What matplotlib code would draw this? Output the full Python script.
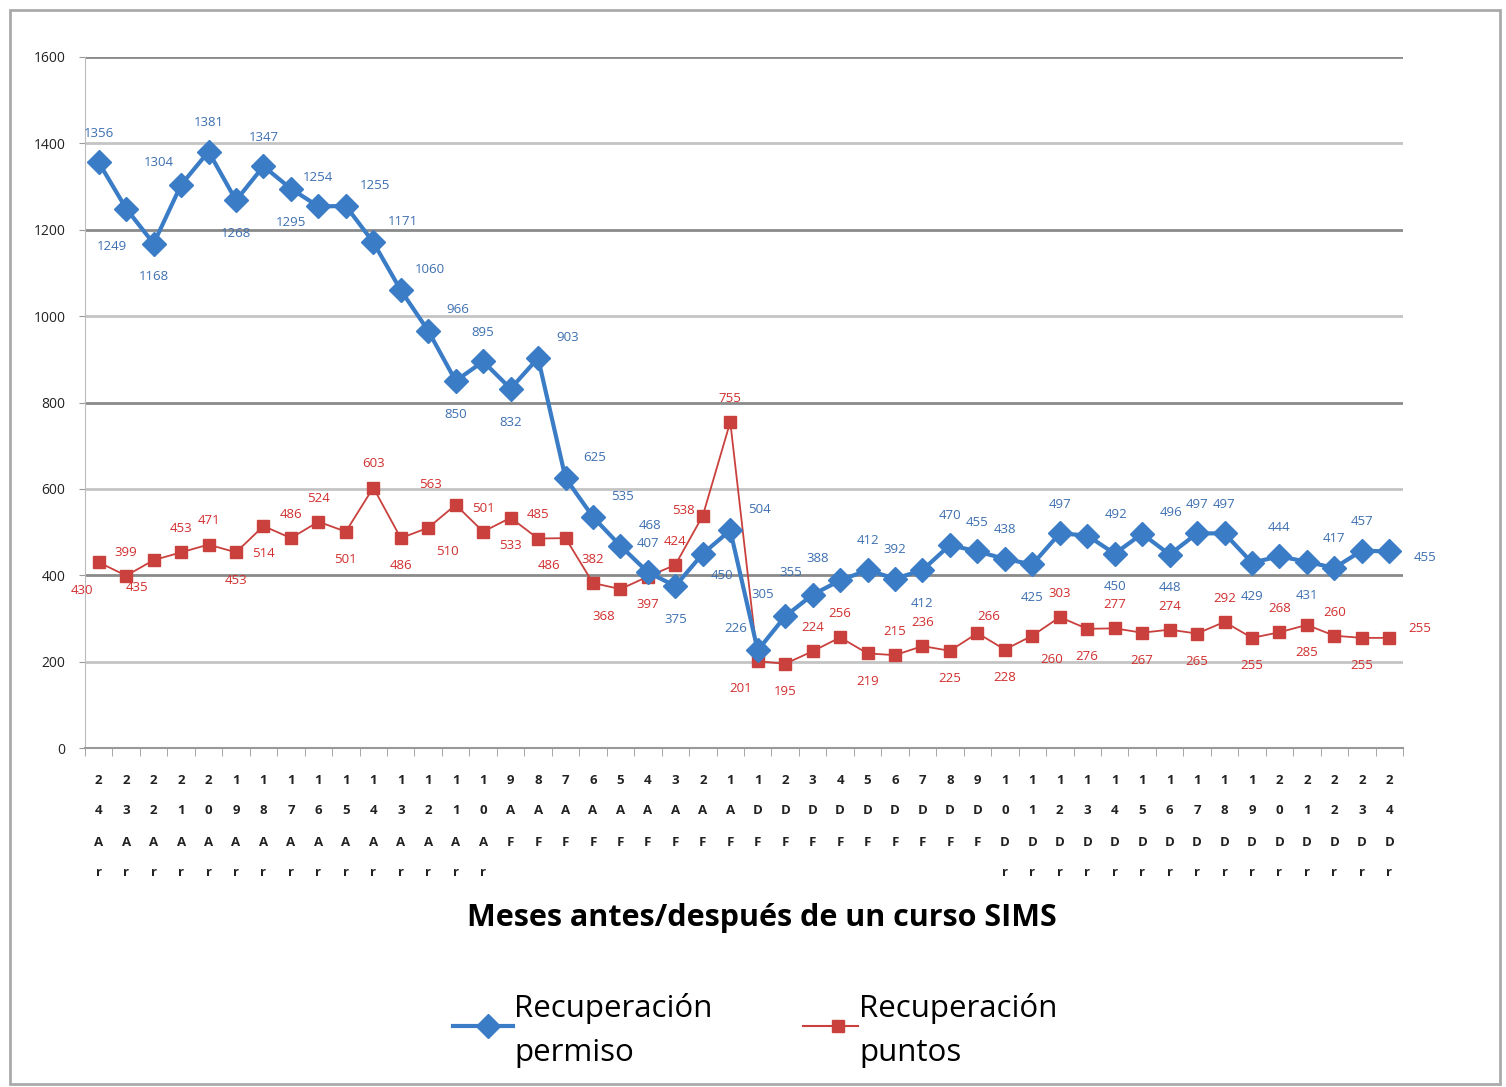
import matplotlib.pyplot as plt
import numpy as np
from matplotlib.lines import Line2D
from matplotlib.patches import Rectangle

plt.rcParams['font.family'] = ['Open Sans', 'DejaVu Sans']

months = [f'{n}Ar' for n in range(24, 9, -1)] + [f'{n}AF' for n in range(9, 0, -1)] \
    + [f'{n}DF' for n in range(1, 10)] + [f'{n}Dr' for n in range(10, 25)]

permiso = [1356, 1249, 1168, 1304, 1381, 1268, 1347, 1295, 1254, 1255, 1171, 1060,
           966, 850, 895, 832, 903, 625, 535, 468, 407, 375, 450, 504,
           226, 305, 355, 388, 412, 392, 412, 470, 455, 438, 425, 497,
           492, 450, 496, 448, 497, 497, 429, 444, 431, 417, 457, 455]
puntos = [430, 399, 435, 453, 471, 453, 514, 486, 524, 501, 603, 486,
          510, 563, 501, 533, 485, 486, 382, 368, 397, 424, 538, 755,
          201, 195, 224, 256, 219, 215, 236, 225, 266, 228, 260, 303,
          276, 277, 267, 274, 265, 292, 255, 268, 285, 260, 255, 255]

# label placement codes for the data labels
permiso_pos = ['a', 'bl', 'b', 'al', 'a', 'b', 'a', 'b', 'a', 'ar', 'ar', 'ar',
               'ar', 'b', 'a', 'b', 'ar', 'ar', 'ar', 'ar', 'a', 'b', 'rb', 'ar',
               'al', 'al', 'al', 'al', 'a', 'a', 'b', 'a', 'a', 'a', 'b', 'a',
               'ar', 'b', 'ar', 'b', 'a', 'a', 'b', 'a', 'b', 'a', 'a', 'r']
puntos_pos = ['bl', 'a', 'bl', 'a', 'a', 'b', 'b', 'a', 'a', 'b', 'a', 'b',
              'br', 'al', 'a', 'b', 'a', 'bl', 'a', 'bl', 'b', 'a', 'l', 'a',
              'bl', 'b', 'a', 'a', 'b', 'a', 'a', 'b', 'ar', 'b', 'br', 'a',
              'b', 'a', 'b', 'a', 'b', 'a', 'b', 'a', 'b', 'a', 'b', 'r']

blue_off = {'a': (0, 21), 'b': (0, -24), 'al': (-16, 16), 'ar': (21, 15),
            'bl': (-10, -27), 'r': (26, -4), 'rb': (14, -16)}
red_off = {'a': (0, 17), 'b': (0, -20), 'al': (-18, 15), 'ar': (8, 12),
           'bl': (-12, -20), 'br': (14, -17), 'r': (22, 7), 'l': (-14, 4)}

blue = '#3a7cc6'
red = '#c9403d'

W, H = 1506, 1087
fig = plt.figure(figsize=(W / 100, H / 100), dpi=100)
L, R, T, B = 85, 1403, 57, 748
ax = fig.add_axes([L / W, 1 - B / H, (R - L) / W, (B - T) / H])

x = np.arange(1, len(months) + 1)

for v in range(200, 1601, 200):
    c = '#8a8a8a' if v % 400 == 0 else '#c4c4c4'
    ax.axhline(v, color=c, lw=2, zorder=0)

ax.plot(x, puntos, color=red, lw=1.3, marker='s', ms=9, mec=red, zorder=3)
ax.plot(x, permiso, color=blue, lw=3, marker='D', ms=12, mec=blue, zorder=4)

for xi, v, p in zip(x, permiso, permiso_pos):
    ax.annotate(str(v), (xi, v), xytext=blue_off[p], textcoords='offset points',
                ha='center', va='center', fontsize=9.5, color='#3d6fb0', zorder=5)
for xi, v, p in zip(x, puntos, puntos_pos):
    ax.annotate(str(v), (xi, v), xytext=red_off[p], textcoords='offset points',
                ha='center', va='center', fontsize=9.5, color='#d22e2e', zorder=5)

ax.set_xlim(0.5, len(months) + 0.5)
ax.set_ylim(0, 1600)
ax.set_yticks(range(0, 1601, 200))
ax.tick_params(axis='y', labelsize=10, length=4, color='#999999', pad=10,
               labelcolor='#222222')
ax.set_xticks(x)
ax.set_xticklabels([])
ax.set_xticks(np.arange(0.5, len(months) + 1, 1), minor=True)
ax.tick_params(axis='x', which='major', length=0)
ax.tick_params(axis='x', which='minor', length=6, color='#999999')
for s in ['top', 'right']:
    ax.spines[s].set_visible(False)
ax.spines['left'].set_color('#bbbbbb')
ax.spines['bottom'].set_color('#999999')
ax.spines['bottom'].set_linewidth(1.5)

# stacked category labels
rows = [780, 811, 842, 873]
for xi, m in zip(x, months):
    for k, ch in enumerate(m):
        ax.text(xi, (B - rows[k]) / (B - T), ch, transform=ax.get_xaxis_transform(),
                ha='center', va='center', fontsize=9.5, fontweight='bold', color='#222222')

fig.text(762 / W, 1 - 918 / H, 'Meses antes/después de un curso SIMS',
         ha='center', va='center', fontsize=22, fontweight='bold')

# legend
ly = 1 - 1026 / H
fig.add_artist(Line2D([453 / W, 513 / W], [ly, ly], color=blue, lw=3))
fig.add_artist(Line2D([488 / W], [ly], color=blue, marker='D', ms=12, lw=0))
fig.text(514 / W, 1 - 1008 / H, 'Recuperación', fontsize=22.5, va='center')
fig.text(514 / W, 1 - 1053 / H, 'permiso', fontsize=22.5, va='center')
fig.add_artist(Line2D([803 / W, 858 / W], [ly, ly], color=red, lw=1.5))
fig.add_artist(Line2D([838 / W], [ly], color=red, marker='s', ms=9, lw=0))
fig.text(859 / W, 1 - 1008 / H, 'Recuperación', fontsize=22.5, va='center')
fig.text(859 / W, 1 - 1053 / H, 'puntos', fontsize=22.5, va='center')

fig.add_artist(Rectangle((10 / W, 1 - 1084 / H), 1490 / W, 1074 / H,
                         transform=fig.transFigure, fill=False, ec='#aaaaaa', lw=2))

fig.savefig('out.png', dpi=100)
